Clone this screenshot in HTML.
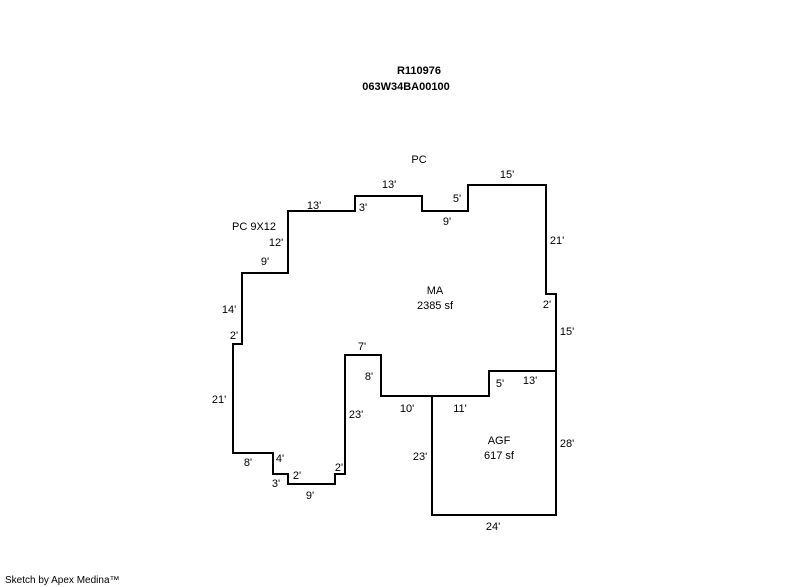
<!DOCTYPE html>
<html><head><meta charset="utf-8"><style>
html,body{margin:0;padding:0;background:#fff;}
svg{display:block;}
text{font-family:"Liberation Sans",Arial,sans-serif;font-size:11px;fill:#000;text-anchor:middle;}
.b{font-weight:bold;}
</style></head><body>
<svg width="800" height="587" viewBox="0 0 800 587" xmlns="http://www.w3.org/2000/svg">
<g fill="none" stroke="#000" stroke-width="2">
<polyline points="556,371 556,294 546,294 546,185 468,185 468,211 422,211 422,196 355,196 355,211 288,211 288,273 242,273 242,344 233,344 233,453 273,453 273,474 288,474 288,484 335,484 335,474 345,474 345,355 381,355 381,396 489,396 489,371 556,371"/>
<polyline points="432,396 432,515 556,515 556,371"/>
</g>
<text class="b" x="419" y="74">R110976</text>
<text class="b" x="406" y="90">063W34BA00100</text>
<text x="419" y="163">PC</text>
<text x="507" y="178">15'</text>
<text x="389" y="188">13'</text>
<text x="457" y="202">5'</text>
<text x="314" y="209">13'</text>
<text x="363" y="211">3'</text>
<text x="447" y="225">9'</text>
<text x="254" y="230">PC 9X12</text>
<text x="557" y="244">21'</text>
<text x="276" y="246">12'</text>
<text x="265" y="265">9'</text>
<text x="435" y="294">MA</text>
<text x="435" y="309">2385 sf</text>
<text x="547" y="308">2'</text>
<text x="229" y="313">14'</text>
<text x="567" y="335">15'</text>
<text x="234" y="339">2'</text>
<text x="362" y="350">7'</text>
<text x="369" y="380">8'</text>
<text x="500" y="387">5'</text>
<text x="530" y="384">13'</text>
<text x="219" y="403">21'</text>
<text x="407" y="412">10'</text>
<text x="460" y="412">11'</text>
<text x="356" y="418">23'</text>
<text x="499" y="444">AGF</text>
<text x="499" y="459">617 sf</text>
<text x="567" y="447">28'</text>
<text x="420" y="460">23'</text>
<text x="248" y="466">8'</text>
<text x="280" y="462">4'</text>
<text x="297" y="479">2'</text>
<text x="339" y="471">2'</text>
<text x="276" y="487">3'</text>
<text x="310" y="499">9'</text>
<text x="493" y="530">24'</text>
<text x="5" y="583" style="text-anchor:start;font-size:10px">Sketch by Apex Medina™</text>
</svg>
</body></html>
